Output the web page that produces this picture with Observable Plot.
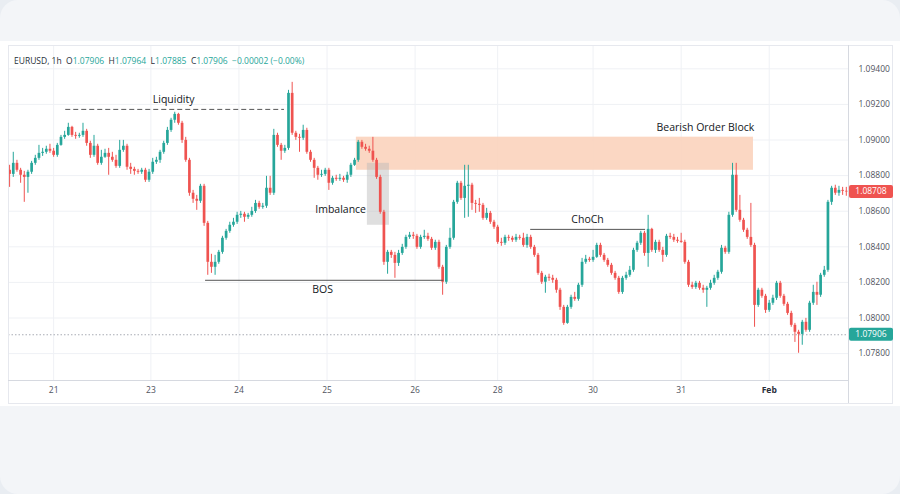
<!DOCTYPE html>
<html><head><meta charset="utf-8">
<script src="https://cdn.jsdelivr.net/npm/d3@7"></script>
<script src="https://cdn.jsdelivr.net/npm/@observablehq/plot@0.6"></script>
<style>
html,body{margin:0;padding:0;}
body{width:900px;height:494px;overflow:hidden;background:#e9edf2;font-family:"Open Sans",sans-serif;}
#wrap{position:relative;width:900px;height:494px;}
.bg{position:absolute;}
#hdr{position:absolute;left:14px;top:55px;font-size:8.5px;line-height:12px;color:#2a2e39;white-space:nowrap;}
#hdr .v{color:#26a69a}
#chart{position:absolute;left:0;top:0;}
</style></head>
<body><div id="wrap">
<div class="bg" style="left:0;top:0;width:900px;height:494px;background:#f3f5f8;border-radius:18px;"></div>
<div class="bg" style="left:0;top:41px;width:900px;height:365px;background:#fff;"></div>
<div id="chart"></div>
<div id="hdr">EURUSD, 1h&nbsp; O<span class="v">1.07906</span>&nbsp; H<span class="v">1.07964</span>&nbsp; L<span class="v">1.07885</span>&nbsp; C<span class="v">1.07906</span>&nbsp; <span class="v">−0.00002 (−0.00%)</span></div>
</div>
<script>
// ---- data (EURUSD 1h candles) ----
const opens = [
1.08830,1.08807,1.08869,1.08830,1.08802,1.08790,1.08819,1.08869,1.08897,1.08925,
1.08931,1.08948,1.08937,1.08914,1.08970,1.09015,1.09026,1.09071,1.09026,1.09021,
1.09026,1.09049,1.08981,1.08914,1.08965,1.08869,1.08903,1.08925,1.08903,1.08886,
1.08852,1.08942,1.08965,1.08847,1.08835,1.08824,1.08819,1.08830,1.08774,1.08819,
1.08875,1.08886,1.08931,1.08981,1.09054,1.09111,1.09144,1.09094,1.08998,1.08886,
1.08701,1.08667,1.08656,1.08740,1.08532,1.08313,1.08285,1.08313,1.08369,1.08448,
1.08487,1.08521,1.08538,1.08577,1.08583,1.08566,1.08577,1.08599,1.08644,1.08622,
1.08628,1.08729,1.08701,1.09026,1.08970,1.08937,1.08953,1.09262,1.09038,1.09015,
1.09010,1.09054,1.08931,1.08886,1.08841,1.08802,1.08807,1.08830,1.08757,1.08785,
1.08779,1.08785,1.08774,1.08802,1.08858,1.08886,1.08987,1.08959,1.08948,1.08937,
1.08886,1.08790,1.08594,1.08313,1.08369,1.08352,1.08307,1.08363,1.08397,1.08453,
1.08465,1.08459,1.08397,1.08453,1.08459,1.08442,1.08392,1.08425,1.08285,1.08201,
1.08397,1.08448,1.08650,1.08757,1.08672,1.08740,1.08746,1.08644,1.08639,1.08633,
1.08560,1.08588,1.08538,1.08510,1.08425,1.08420,1.08453,1.08448,1.08437,1.08453,
1.08448,1.08408,1.08453,1.08397,1.08352,1.08251,1.08201,1.08229,1.08223,1.08212,
1.08156,1.08060,1.07970,1.08060,1.08116,1.08105,1.08184,1.08313,1.08330,1.08324,
1.08341,1.08408,1.08352,1.08324,1.08296,1.08251,1.08223,1.08144,1.08223,1.08240,
1.08268,1.08380,1.08420,1.08476,1.08363,1.08498,1.08380,1.08425,1.08380,1.08352,
1.08459,1.08453,1.08437,1.08431,1.08425,1.08313,1.08184,1.08172,1.08195,1.08167,
1.08156,1.08167,1.08195,1.08223,1.08257,1.08392,1.08369,1.08577,1.08802,1.08605,
1.08549,1.08493,1.08453,1.08408,1.08071,1.08156,1.08122,1.08043,1.08083,1.08111,
1.08195,1.08122,1.08077,1.08026,1.07959,1.07920,1.07908,1.07976,1.07931,1.08083,
1.08144,1.08128,1.08240,1.08268,1.08650,1.08729,1.08701,1.08717,1.08712];
const highs = [
1.08858,1.08931,1.08886,1.08841,1.08824,1.08830,1.08880,1.08914,1.08970,1.08953,
1.08965,1.08976,1.08953,1.08981,1.09026,1.09049,1.09094,1.09077,1.09043,1.09038,
1.09094,1.09060,1.08993,1.09026,1.08976,1.08942,1.08948,1.08953,1.08931,1.08914,
1.08998,1.08998,1.08976,1.08869,1.08847,1.08835,1.08841,1.08841,1.08835,1.08897,
1.08903,1.08942,1.08993,1.09071,1.09122,1.09156,1.09150,1.09105,1.09015,1.08897,
1.08717,1.08689,1.08751,1.08751,1.08543,1.08358,1.08352,1.08380,1.08459,1.08498,
1.08538,1.08560,1.08594,1.08599,1.08594,1.08588,1.08622,1.08661,1.08656,1.08644,
1.08796,1.08796,1.09060,1.09038,1.08981,1.08970,1.09279,1.09324,1.09049,1.09032,
1.09083,1.09066,1.08942,1.08897,1.08852,1.08830,1.08841,1.08841,1.08796,1.08802,
1.08807,1.08796,1.08819,1.08869,1.08897,1.08998,1.08998,1.08976,1.08965,1.09015,
1.08897,1.08802,1.08605,1.08380,1.08380,1.08369,1.08380,1.08414,1.08465,1.08481,
1.08481,1.08470,1.08465,1.08493,1.08476,1.08453,1.08437,1.08437,1.08296,1.08408,
1.08504,1.08661,1.08768,1.08768,1.08858,1.08858,1.08757,1.08661,1.08672,1.08644,
1.08616,1.08599,1.08549,1.08521,1.08448,1.08465,1.08465,1.08459,1.08470,1.08465,
1.08476,1.08470,1.08465,1.08408,1.08363,1.08262,1.08240,1.08246,1.08240,1.08223,
1.08167,1.08071,1.08071,1.08128,1.08144,1.08195,1.08335,1.08352,1.08341,1.08380,
1.08420,1.08420,1.08363,1.08335,1.08307,1.08262,1.08234,1.08234,1.08257,1.08290,
1.08392,1.08431,1.08487,1.08487,1.08577,1.08504,1.08437,1.08437,1.08397,1.08470,
1.08476,1.08470,1.08453,1.08476,1.08437,1.08324,1.08201,1.08206,1.08206,1.08184,
1.08178,1.08212,1.08240,1.08268,1.08408,1.08403,1.08594,1.08869,1.08869,1.08689,
1.08560,1.08504,1.08644,1.08420,1.08167,1.08167,1.08133,1.08099,1.08128,1.08206,
1.08206,1.08133,1.08088,1.08038,1.07970,1.07931,1.07987,1.07998,1.08094,1.08184,
1.08201,1.08251,1.08290,1.08661,1.08740,1.08746,1.08740,1.08734,1.08734];
const lows = [
1.08734,1.08790,1.08819,1.08757,1.08650,1.08701,1.08807,1.08858,1.08886,1.08908,
1.08920,1.08925,1.08903,1.08903,1.08965,1.09004,1.09021,1.09015,1.09004,1.09010,
1.09015,1.08965,1.08897,1.08903,1.08858,1.08858,1.08897,1.08802,1.08875,1.08841,
1.08841,1.08931,1.08830,1.08807,1.08802,1.08807,1.08807,1.08762,1.08762,1.08807,
1.08863,1.08869,1.08920,1.08970,1.09043,1.09094,1.09083,1.08981,1.08875,1.08684,
1.08644,1.08605,1.08644,1.08515,1.08240,1.08251,1.08240,1.08302,1.08358,1.08437,
1.08476,1.08510,1.08526,1.08560,1.08538,1.08554,1.08566,1.08588,1.08611,1.08611,
1.08616,1.08689,1.08689,1.08959,1.08886,1.08925,1.08942,1.09026,1.08998,1.08931,
1.08998,1.08920,1.08875,1.08785,1.08774,1.08790,1.08796,1.08717,1.08746,1.08768,
1.08768,1.08762,1.08757,1.08790,1.08852,1.08875,1.08948,1.08937,1.08925,1.08875,
1.08779,1.08583,1.08296,1.08246,1.08335,1.08223,1.08290,1.08352,1.08386,1.08442,
1.08442,1.08386,1.08386,1.08442,1.08431,1.08380,1.08380,1.08274,1.08128,1.08189,
1.08386,1.08437,1.08639,1.08661,1.08560,1.08566,1.08605,1.08588,1.08594,1.08549,
1.08549,1.08526,1.08498,1.08414,1.08403,1.08408,1.08431,1.08425,1.08425,1.08437,
1.08397,1.08392,1.08386,1.08341,1.08240,1.08189,1.08139,1.08206,1.08195,1.08139,
1.08043,1.07959,1.07965,1.08049,1.08094,1.08094,1.08172,1.08302,1.08313,1.08313,
1.08335,1.08341,1.08313,1.08285,1.08240,1.08212,1.08133,1.08133,1.08212,1.08229,
1.08257,1.08369,1.08408,1.08347,1.08285,1.08369,1.08363,1.08369,1.08313,1.08341,
1.08442,1.08425,1.08420,1.08420,1.08302,1.08172,1.08161,1.08161,1.08156,1.08139,
1.08060,1.08156,1.08184,1.08212,1.08246,1.08358,1.08358,1.08566,1.08594,1.08538,
1.08481,1.08442,1.08397,1.07948,1.08060,1.08111,1.08026,1.08032,1.08071,1.08099,
1.08111,1.08066,1.08015,1.07948,1.07863,1.07802,1.07847,1.07920,1.07920,1.08071,
1.08071,1.08116,1.08229,1.08257,1.08633,1.08689,1.08684,1.08689,1.08684];
const closes = [
1.08807,1.08869,1.08830,1.08802,1.08790,1.08819,1.08869,1.08897,1.08925,1.08931,
1.08948,1.08937,1.08914,1.08970,1.09015,1.09026,1.09071,1.09026,1.09021,1.09026,
1.09049,1.08981,1.08914,1.08965,1.08869,1.08903,1.08925,1.08903,1.08886,1.08852,
1.08942,1.08965,1.08847,1.08835,1.08824,1.08819,1.08830,1.08774,1.08819,1.08875,
1.08886,1.08931,1.08981,1.09054,1.09111,1.09144,1.09094,1.08998,1.08886,1.08701,
1.08667,1.08656,1.08740,1.08532,1.08313,1.08285,1.08313,1.08369,1.08448,1.08487,
1.08521,1.08538,1.08577,1.08583,1.08566,1.08577,1.08599,1.08644,1.08622,1.08628,
1.08729,1.08701,1.09026,1.08970,1.08937,1.08953,1.09262,1.09038,1.09015,1.09010,
1.09054,1.08931,1.08886,1.08841,1.08802,1.08807,1.08830,1.08757,1.08785,1.08779,
1.08785,1.08774,1.08802,1.08858,1.08886,1.08987,1.08959,1.08948,1.08937,1.08886,
1.08790,1.08594,1.08313,1.08369,1.08352,1.08307,1.08363,1.08397,1.08453,1.08465,
1.08459,1.08397,1.08453,1.08459,1.08442,1.08392,1.08425,1.08285,1.08201,1.08397,
1.08448,1.08650,1.08757,1.08672,1.08740,1.08746,1.08644,1.08639,1.08633,1.08560,
1.08588,1.08538,1.08510,1.08425,1.08420,1.08453,1.08448,1.08437,1.08453,1.08448,
1.08408,1.08453,1.08397,1.08352,1.08251,1.08201,1.08229,1.08223,1.08212,1.08156,
1.08060,1.07970,1.08060,1.08116,1.08105,1.08184,1.08313,1.08330,1.08324,1.08341,
1.08408,1.08352,1.08324,1.08296,1.08251,1.08223,1.08144,1.08223,1.08240,1.08268,
1.08380,1.08420,1.08476,1.08363,1.08498,1.08380,1.08425,1.08380,1.08352,1.08459,
1.08453,1.08437,1.08431,1.08425,1.08313,1.08184,1.08172,1.08195,1.08167,1.08156,
1.08167,1.08195,1.08223,1.08257,1.08392,1.08369,1.08577,1.08802,1.08605,1.08549,
1.08493,1.08453,1.08408,1.08071,1.08156,1.08122,1.08043,1.08083,1.08111,1.08195,
1.08122,1.08077,1.08026,1.07959,1.07920,1.07908,1.07976,1.07931,1.08083,1.08144,
1.08128,1.08240,1.08268,1.08650,1.08729,1.08701,1.08717,1.08712,1.08708];

const yTicks = [1.078, 1.080, 1.082, 1.084, 1.086, 1.088, 1.090, 1.092, 1.094];
const xTicks = [12, 38.5, 62.5, 86.5, 110.5, 133, 159, 183, 207];          // candle index of each day label
const xTickLabels = ["21", "23", "24", "25", "26", "28", "30", "31", "Feb"];

const lastPrice = 1.08708;
const crossPrice = 1.07906;

// annotation zones (candle index, price)
const orderBlock = [{x1: 94.5, x2: 202.7, y1: 1.08830, y2: 1.09016}];
const imbalance = [{x1: 97.5, x2: 103.5, y1: 1.08521, y2: 1.08869}];
const levelNames = ["Liquidity", "BOS", "ChoCh"];
const levelPrices = [1.09172, 1.08212, 1.08498];
const levelFrom = [15.3, 53.4, 142];
const levelTo = [74.9, 118.3, 173.3];
const noteTexts = ["Liquidity", "Imbalance", "BOS", "ChoCh", "Bearish Order Block"];
const noteX = [44.7, 90.2, 85.3, 157.5, 189.6];
const noteY = [1.09229, 1.08611, 1.08161, 1.08554, 1.09070];

// ---- build ----
const green = "#26a69a", red = "#ef5350";
const candles = closes.map((c, i) => ({i, o: opens[i], h: highs[i], l: lows[i], c}));
const levels = levelNames.map((n, k) => ({n, p: levelPrices[k], a: levelFrom[k], b: levelTo[k]}));
const notes = noteTexts.map((t, k) => ({t, x: noteX[k], y: noteY[k]}));
const xt = xTicks.map((x, k) => ({x, label: xTickLabels[k]}));
const col = d => d.c >= d.o ? green : red;
const fmt = d3.format(".5f");

function priceTag(price, color) {
  return (index, scales, values, dim) => {
    const y = scales.y(price);
    const x0 = dim.width - dim.marginRight + 1;
    const g = d3.create("svg:g");
    g.append("rect").attr("x", x0).attr("y", y - 6.5).attr("width", 44).attr("height", 13)
      .attr("rx", 2).attr("fill", color);
    g.append("text").attr("x", x0 + 22).attr("y", y).attr("dy", "0.35em")
      .attr("text-anchor", "middle").attr("fill", "#fff").attr("font-size", 8.5)
      .attr("font-family", "'Open Sans', sans-serif").text(fmt(price));
    return g.node();
  };
}
function frameLines(index, scales, values, dim) {
  const L = dim.marginLeft, R = dim.width - dim.marginRight, T = dim.marginTop, B = dim.height - dim.marginBottom;
  const g = d3.create("svg:g").attr("fill", "none");
  g.append("rect").attr("x", L + 0.5).attr("y", T + 0.5).attr("width", 884).attr("height", 358).attr("stroke", "#e6e8ee");
  g.append("line").attr("x1", L).attr("x2", R).attr("y1", B + 0.5).attr("y2", B + 0.5).attr("stroke", "#d6d9e0");
  g.append("line").attr("x1", R + 0.5).attr("x2", R + 0.5).attr("y1", T).attr("y2", B + 23).attr("stroke", "#d6d9e0");
  return g.node();
}

const chart = Plot.plot({
  width: 900, height: 494,
  marginLeft: 8, marginRight: 52, marginTop: 45, marginBottom: 114,
  x: {domain: [-0.3, 228.6], axis: null},
  y: {domain: [1.07649, 1.09531]},
  style: {background: "transparent", fontFamily: "'Open Sans', sans-serif", overflow: "visible"},
  marks: [
    Plot.gridY(yTicks, {stroke: "#eff1f5", strokeOpacity: 1}),
    Plot.gridX(xTicks, {stroke: "#eff1f5", strokeOpacity: 1}),
    Plot.rect(orderBlock, {x1: "x1", x2: "x2", y1: "y1", y2: "y2", fill: "#fbd3bd", fillOpacity: 0.9}),
    Plot.rect(imbalance, {x1: "x1", x2: "x2", y1: "y1", y2: "y2", fill: "#b9b9b9", fillOpacity: 0.45}),
    Plot.ruleY([crossPrice], {stroke: "#a8abb4", strokeDasharray: "1.5,2"}),
    Plot.ruleX(candles, {x: "i", y1: "l", y2: "h", stroke: col, strokeWidth: 1}),
    Plot.ruleX(candles, {x: "i", y1: "o", y2: "c", stroke: col, strokeWidth: 2.7}),
    Plot.ruleY(levels.filter(d => d.n === "Liquidity"), {y: "p", x1: "a", x2: "b", stroke: "#555", strokeDasharray: "5,3"}),
    Plot.ruleY(levels.filter(d => d.n !== "Liquidity"), {y: "p", x1: "a", x2: "b", stroke: "#555"}),
    Plot.text(notes, {x: "x", y: "y", text: "t", fontSize: 10.5, fill: "#131722"}),
    frameLines,
    Plot.axisY(yTicks, {anchor: "right", tickSize: 0, tickPadding: 10, tickFormat: fmt, fontSize: 8.5, fill: "#50535e", label: null}),
    Plot.text(xt.filter(d => d.label !== "Feb"), {x: "x", text: "label", frameAnchor: "bottom", dy: 12, fontSize: 8.5, fill: "#50535e"}),
    Plot.text(xt.filter(d => d.label === "Feb"), {x: "x", text: "label", frameAnchor: "bottom", dy: 12, fontSize: 8.5, fontWeight: "bold", fill: "#2a2e39"}),
    priceTag(lastPrice, red),
    priceTag(crossPrice, green)
  ]
});
document.getElementById("chart").appendChild(chart);
</script>
</body></html>
